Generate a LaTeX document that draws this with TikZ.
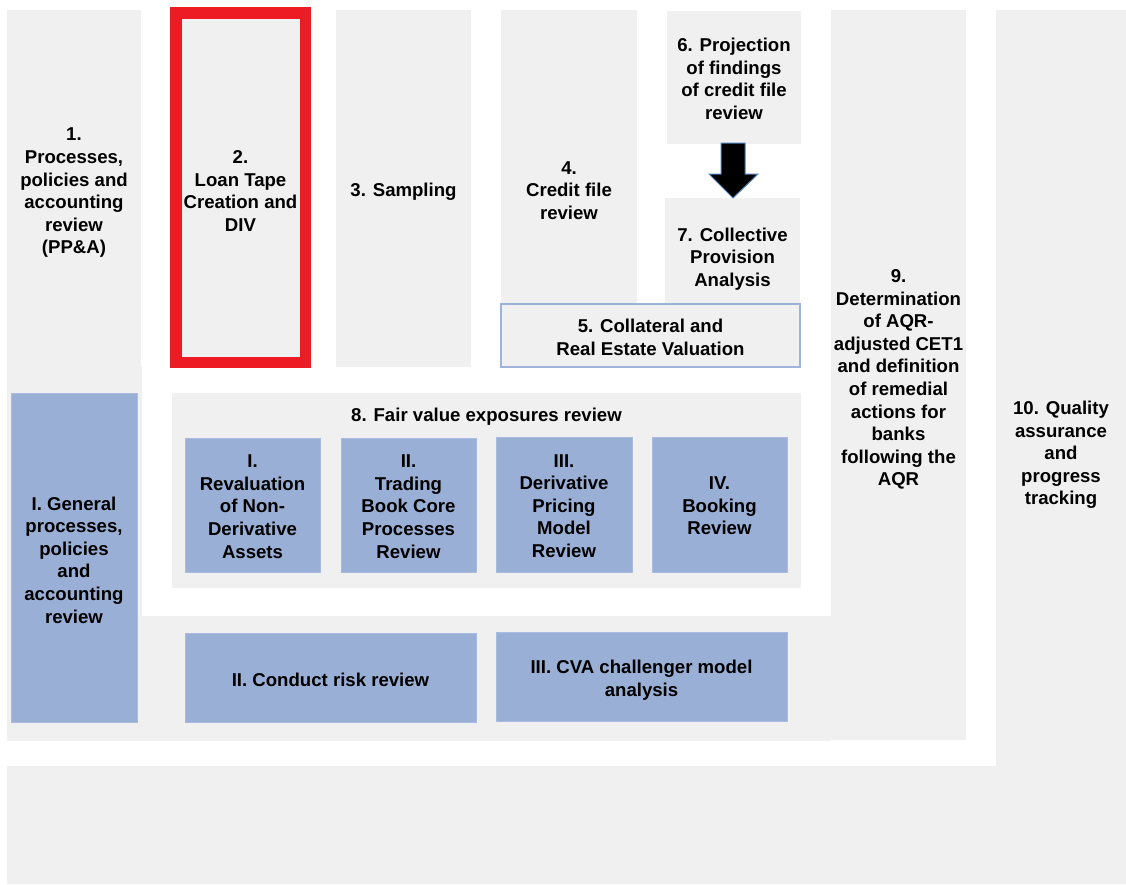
\documentclass[tikz,border=0pt]{standalone}
\usepackage{fontspec}
\setmainfont{Liberation Sans}
\usetikzlibrary{calc}
\definecolor{lgrey}{HTML}{F0F0F0}
\definecolor{bfill}{HTML}{9AAFD5}
\definecolor{bedge}{HTML}{A9BCDF}
\definecolor{redb}{HTML}{ED1C24}
\definecolor{fiveedge}{HTML}{9DB3DA}
\definecolor{arrowedge}{HTML}{4F81BD}
\begin{document}
\begin{tikzpicture}[x=1pt,y=-1pt,
  txt/.style={font=\bfseries\fontsize{18.6}{22.6}\selectfont, align=center, text=black, inner sep=0pt},
  down/.style={yshift=-#1},
  gbox/.style={rectangle, fill=lgrey, draw=none, inner sep=0pt, outer sep=0pt},
  bbox/.style={rectangle, fill=bfill, draw=bedge, line width=1pt, inner sep=0pt, outer sep=0pt},
  redbox/.style={rectangle, fill=lgrey, draw=redb, line width=11.5pt, inner sep=0pt, outer sep=0pt},
  fivebox/.style={rectangle, fill=lgrey, draw=fiveedge, line width=1.5pt, inner sep=0pt, outer sep=0pt},
  blockarrow/.style={fill=black, draw=arrowedge, line width=1pt, line join=miter}
]
\useasboundingbox[fill=white] (0,0) rectangle (1126,884);

% light grey background shapes
\node[gbox, minimum width=134pt, minimum height=357pt] (c1a) at (74,188.5) {};
\node[gbox, minimum width=135pt, minimum height=374pt] (c1b) at (74.5,554) {};
\node[gbox, minimum width=824pt, minimum height=125pt] (low) at (419,678.5) {};
\node[gbox, minimum width=135pt, minimum height=730pt] (c9) at (898.5,375) {};
\node[gbox, minimum width=130pt, minimum height=874pt] (c10) at (1061,447) {};
\node[gbox, minimum width=1119pt, minimum height=118pt] (bottom) at (566.5,825) {};
\node[gbox, minimum width=135pt, minimum height=357pt] (c3) at (403.5,188.5) {};
\node[gbox, minimum width=136pt, minimum height=357pt] (c4) at (569,188.5) {};
\node[gbox, minimum width=134pt, minimum height=133pt] (b6) at (734,77.5) {};
\node[gbox, minimum width=135pt, minimum height=118pt] (b7) at (732.5,257) {};
\node[fivebox, minimum width=299pt, minimum height=63pt] (b5) at (650.5,335.5) {};
\node[redbox, minimum width=129.5pt, minimum height=349.5pt] (b2) at (240.5,187.5) {};
\node[gbox, minimum width=629pt, minimum height=195pt] (fv) at (486.5,490.5) {};

% blue boxes
\node[bbox, minimum width=126pt, minimum height=329pt] (bI) at (74,557.5) {};
\node[bbox, minimum width=135pt, minimum height=134pt] (r1) at (252.5,505) {};
\node[bbox, minimum width=135pt, minimum height=134pt] (r2) at (408.5,505) {};
\node[bbox, minimum width=136pt, minimum height=135pt] (r3) at (564,504.5) {};
\node[bbox, minimum width=135pt, minimum height=135pt] (r4) at (719.5,504.5) {};
\node[bbox, minimum width=291pt, minimum height=89pt] (cr) at (330.5,677.5) {};
\node[bbox, minimum width=291pt, minimum height=89pt] (cva) at (641.5,676.5) {};

% texts
\node[txt, down=4.5pt] (t1) at (c1a.center) {1.\\Processes,\\policies and\\accounting\\review\\(PP\&A)};
\node[txt, down=3.5pt] (t2) at (b2.center) {2.\\Loan Tape\\Creation and\\DIV};
\node[txt, down=3pt] (t3) at (c3.center) {3. Sampling};
\node[txt, down=2pt] (t4) at (c4.center) {4.\\Credit file\\review};
\node[txt, down=1.5pt] (t6) at (b6.center) {6. Projection\\of findings\\of credit file\\review};
\node[txt, down=2pt] (t7) at (b7.center) {7. Collective\\Provision\\Analysis};
\node[txt, down=2pt] (t5) at (b5.center) {5. Collateral and\\Real Estate Valuation};
\node[txt, down=4.5pt] (t9) at (c9.center) {9.\\Determination\\of AQR-\\adjusted CET1\\and definition\\of remedial\\actions for\\banks\\following the\\AQR};
\node[txt] (t10) at (1061,455) {10. Quality\\assurance\\and\\progress\\tracking};
\node[txt] (t8) at (486.5,417) {8. Fair value exposures review};
\node[txt, down=2.5pt] (tI) at (bI.center) {I. General\\processes,\\policies\\and\\accounting\\review};
\node[txt, down=1.5pt] (tr1) at (r1.center) {I.\\Revaluation\\of Non-\\Derivative\\Assets};
\node[txt, down=1.5pt] (tr2) at (r2.center) {II.\\Trading\\Book Core\\Processes\\Review};
\node[txt, down=1.5pt] (tr3) at (r3.center) {III.\\Derivative\\Pricing\\Model\\Review};
\node[txt, down=1.5pt] (tr4) at (r4.center) {IV.\\Booking\\Review};
\node[txt, down=2pt] (tcr) at (cr.center) {II. Conduct risk review};
\node[txt, down=3.5pt] (tcva) at (cva.center) {III. CVA challenger model\\analysis};

% block arrow from 6 to 7
\coordinate (at) at ($(b6.south)+(-1,0)$);
\draw[blockarrow] ($(at)+(-12,-1)$) -- ($(at)+(12,-1)$) -- ($(at)+(12,30)$)
  -- ($(at)+(25,30)$) -- (at |- b7.north) -- ($(at)+(-24,30)$)
  -- ($(at)+(-12,30)$) -- cycle;
\end{tikzpicture}
\end{document}
